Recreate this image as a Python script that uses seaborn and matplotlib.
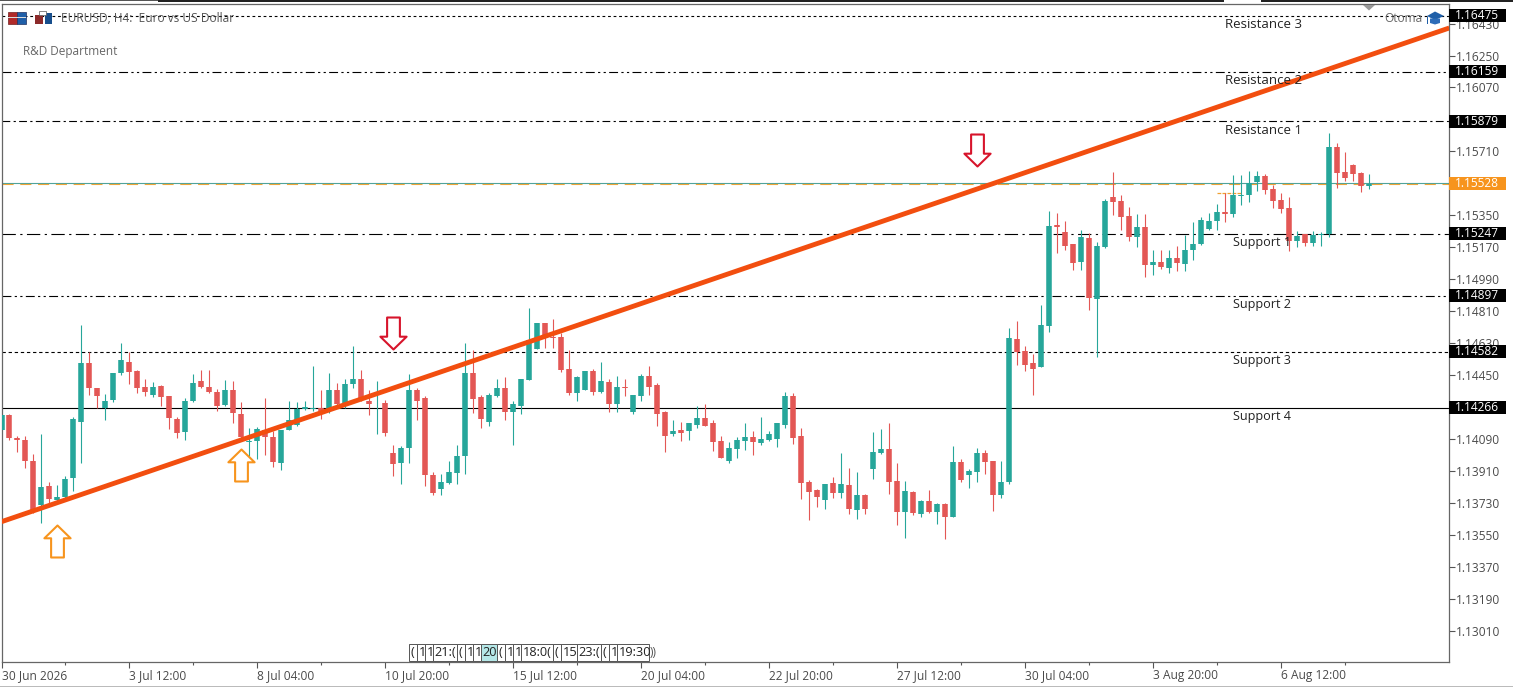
import numpy as np
import pandas as pd
import seaborn as sns
import matplotlib.pyplot as plt
from matplotlib.path import Path
from matplotlib.patches import Rectangle, Polygon

# Candles, in points (price * 100000)
open_pts = [114144, 114223, 114099, 114087, 113969, 113721, 113828, 113749, 113764, 113869,
            114185, 114516, 114379, 114266, 114309, 114462, 114527, 114471, 114381, 114341,
            114388, 114334, 114206, 114129, 114304, 114415, 114384, 114358, 114281, 114369,
            114234, 114074, 114078, 114144, 114102, 113954, 114140, 114172, 114260, 114257,
            114266, 114247, 114369, 114294, 114398, 114431, 114305, 114292, 114296, 114012,
            113954, 114039, 114366, 114319, 113890, 113811, 113845, 113901, 113993, 114465,
            114326, 114189, 114330, 114375, 114245, 114279, 114422, 114595, 114742, 114666,
            114663, 114482, 114347, 114369, 114471, 114358, 114409, 114290, 114384, 114245,
            114332, 114448, 114392, 114240, 114116, 114144, 114133, 114172, 114211, 114178,
            114082, 113967, 114037, 114082, 114104, 114070, 114087, 114093, 114172, 114330,
            114110, 113850, 113805, 113749, 113845, 113788, 113833, 113692, 113777, 113924,
            114012, 114036, 113856, 113681, 113794, 113670, 113743, 113681, 113726, 113653,
            113963, 113890, 113907, 114014, 113969, 113777, 113850, 114651, 114584, 114516,
            114494, 114725, 115295, 115255, 115187, 115086, 115221, 114877, 115170, 115452,
            115430, 115345, 115227, 115283, 115069, 115086, 115052, 115108, 115075, 115154,
            115187, 115272, 115317, 115368, 115357, 115458, 115464, 115537, 115571, 115498,
            115436, 115390, 115204, 115244, 115193, 115238, 115244, 115734, 115593, 115633,
            115588, 115515]
high_pts = [114228, 114232, 114110, 114110, 114007, 114119, 113849, 113834, 113882, 114215,
            114730, 114582, 114379, 114345, 114465, 114629, 114582, 114478, 114426, 114413,
            114392, 114334, 114215, 114321, 114454, 114480, 114478, 114373, 114424, 114420,
            114300, 114153, 114159, 114319, 114134, 114144, 114307, 114300, 114307, 114499,
            114364, 114463, 114407, 114426, 114612, 114477, 114369, 114415, 114313, 114059,
            114054, 114458, 114375, 114334, 113905, 113896, 113969, 114059, 114629, 114593,
            114341, 114347, 114426, 114441, 114307, 114426, 114826, 114745, 114742, 114764,
            114689, 114593, 114443, 114471, 114482, 114527, 114426, 114448, 114426, 114341,
            114454, 114499, 114407, 114251, 114195, 114189, 114183, 114279, 114290, 114200,
            114110, 114076, 114104, 114183, 114138, 114217, 114138, 114178, 114358, 114352,
            114155, 113862, 113811, 113839, 113879, 114014, 113929, 113907, 113783, 114132,
            114149, 114183, 113957, 113856, 113800, 113749, 113805, 113732, 113732, 114053,
            113980, 113924, 114042, 114031, 113969, 113969, 114713, 114753, 114617, 114572,
            114843, 115374, 115362, 115317, 115187, 115266, 115249, 115199, 115441, 115593,
            115464, 115396, 115357, 115357, 115154, 115154, 115154, 115176, 115238, 115311,
            115340, 115362, 115413, 115475, 115577, 115577, 115599, 115599, 115582, 115520,
            115475, 115452, 115261, 115244, 115261, 115255, 115813, 115757, 115706, 115639,
            115593, 115582]
low_pts = [114140, 114084, 114016, 113928, 113674, 113616, 113730, 113730, 113755, 113800,
           113954, 114337, 114266, 114200, 114298, 114450, 114403, 114349, 114330, 114326,
           114275, 114149, 114095, 114084, 114298, 114377, 114351, 114247, 114275, 114178,
           114087, 113984, 113980, 114003, 113931, 113914, 114140, 114166, 114253, 114251,
           114206, 114238, 114266, 114266, 114379, 114304, 114228, 114121, 114110, 113881,
           113839, 113958, 114200, 113824, 113773, 113777, 113839, 113839, 113896, 114238,
           114155, 114163, 114326, 114195, 114059, 114234, 114422, 114595, 114601, 114604,
           114467, 114341, 114307, 114369, 114341, 114352, 114245, 114245, 114330, 114234,
           114307, 114341, 114166, 114020, 114110, 114082, 114087, 114155, 114166, 114025,
           113986, 113958, 113986, 114031, 114003, 114059, 114082, 114048, 114155, 114065,
           113754, 113636, 113709, 113698, 113760, 113760, 113670, 113642, 113670, 113867,
           114008, 113783, 113608, 113534, 113664, 113653, 113675, 113613, 113529, 113653,
           113850, 113816, 113850, 113895, 113687, 113760, 113839, 114510, 114476, 114341,
           114494, 114691, 115137, 115154, 115041, 115041, 114815, 114550, 115165, 115351,
           115266, 115204, 115170, 115001, 115013, 115046, 115024, 115035, 115035, 115097,
           115182, 115266, 115266, 115311, 115340, 115407, 115424, 115486, 115469, 115390,
           115362, 115148, 115170, 115176, 115176, 115176, 115227, 115503, 115543, 115543,
           115481, 115498]
close_pts = [114223, 114095, 114084, 113965, 113693, 113822, 113755, 113766, 113867, 114206,
             114516, 114377, 114332, 114305, 114465, 114533, 114467, 114377, 114354, 114384,
             114326, 114208, 114127, 114305, 114407, 114383, 114354, 114275, 114369, 114236,
             114102, 114080, 114148, 114101, 113960, 114144, 114200, 114262, 114272, 114266,
             114247, 114369, 114285, 114403, 114431, 114322, 114290, 114294, 114127, 113952,
             114042, 114364, 114307, 113886, 113788, 113851, 113907, 113997, 114465, 114315,
             114206, 114337, 114375, 114240, 114285, 114426, 114646, 114742, 114657, 114659,
             114477, 114347, 114437, 114471, 114358, 114415, 114285, 114386, 114377, 114336,
             114448, 114386, 114234, 114110, 114133, 114127, 114183, 114211, 114166, 114076,
             113986, 114042, 114087, 114104, 114076, 114093, 114121, 114178, 114330, 114098,
             113845, 113794, 113766, 113839, 113788, 113839, 113698, 113777, 113698, 114020,
             114036, 113850, 113681, 113800, 113675, 113743, 113681, 113726, 113653, 113963,
             113862, 113912, 114014, 113963, 113777, 113850, 114662, 114578, 114505, 114482,
             114731, 115289, 115283, 115176, 115080, 115227, 114883, 115176, 115430, 115424,
             115340, 115227, 115283, 115069, 115086, 115058, 115108, 115080, 115154, 115187,
             115323, 115317, 115368, 115357, 115464, 115464, 115531, 115571, 115492, 115430,
             115385, 115204, 115233, 115193, 115238, 115244, 115734, 115588, 115560, 115582,
             115515, 115526]

level_prices = [1.16475, 1.16159, 1.15879, 1.15247, 1.14897, 1.14582, 1.14266]
level_names = ["Resistance 3", "Resistance 2", "Resistance 1",
               "Support 1", "Support 2", "Support 3", "Support 4"]
current_price = 1.15528

trend_bars = [0, 181]
trend_prices = [1.13625, 1.16405]

arrow_up_bars = [7, 30]
arrow_up_prices = [1.13518, 1.13946]
arrow_down_bars = [49, 122]
arrow_down_prices = [1.14685, 1.15717]

price_ticks = [1.13010, 1.13190, 1.13370, 1.13550, 1.13730, 1.13910, 1.14090, 1.14270, 1.14450,
               1.14630, 1.14810, 1.14990, 1.15170, 1.15350, 1.15530, 1.15710, 1.15890, 1.16070,
               1.16250, 1.16430]
date_labels = ["30 Jun 2026", "3 Jul 12:00", "8 Jul 04:00", "10 Jul 20:00", "15 Jul 12:00",
               "20 Jul 04:00", "22 Jul 20:00", "27 Jul 12:00", "30 Jul 04:00", "3 Aug 20:00",
               "6 Aug 12:00"]

# the little time boxes stacked on the bottom of the chart, cut off as they appear
cell_labels = ["(", "1", "1", "21:(", "(", "1", "1", "20", "(", "1", "1", "18:0(",
               "(", "15", "23:(", "(", "1", "19:30"]
cell_widths = [1, 1, 1, 3, 1, 1, 1, 2, 1, 1, 1, 4, 1, 2, 3, 1, 1, 4]

W, H = 1513, 687
TEAL = "#26A69A"
RED = "#E35755"
GREY = "#4A4A4A"

sns.set_theme(style="white")
plt.rcParams["font.family"] = ["Open Sans", "DejaVu Sans"]

candles = pd.DataFrame({"open": open_pts, "high": high_pts, "low": low_pts, "close": close_pts}) / 1e5
candles["bar"] = np.arange(len(candles))
candles["direction"] = np.where(candles["close"] >= candles["open"], "up", "down")
palette = {"up": TEAL, "down": RED}

# long form, one pair of rows per candle, so lineplot draws one segment per bar
wicks = candles.melt(id_vars=["bar", "direction"], value_vars=["high", "low"], value_name="price")
bodies = candles.melt(id_vars=["bar", "direction"], value_vars=["open", "close"], value_name="price")

fig = plt.figure(figsize=(W / 100, H / 100), dpi=100, facecolor="white")
ax = fig.add_axes([1.5 / W, 1 - 662 / H, 1447 / W, 658 / H])


def px_rect(x0, y0, x1, y1, **kw):
    fig.add_artist(Rectangle((x0 / W, 1 - y1 / H), (x1 - x0) / W, (y1 - y0) / H,
                             transform=fig.transFigure, **kw))


def px_poly(points, **kw):
    pts = [(x / W, 1 - y / H) for x, y in points]
    fig.add_artist(Polygon(pts, transform=fig.transFigure, **kw))


# Levels
level_styles = [(0, (2.5, 2.5)), (0, (8, 3, 2, 3, 2, 3)), (0, (7, 3, 2, 3)),
                (0, (12, 4, 2, 4)), (0, (8, 3, 2, 3, 2, 3)), (0, (3, 2.5)), "-"]
for price, style in zip(level_prices, level_styles):
    ax.axhline(price, color="black", lw=0.8, ls=style, zorder=1)
# current price: thin teal line with the orange dashed one right under it
ax.axhline(current_price + 0.00003, color="#4FA39B", lw=0.8, zorder=1)
ax.axhline(current_price - 0.00003, color="#EEA63A", lw=0.8, ls=(0, (10, 6)), zorder=1.2)
ax.hlines(1.15473, 152, 155, color="#F0A030", lw=0.9, ls=(0, (3, 1)), zorder=1)

# Candles
sns.lineplot(data=wicks, x="bar", y="price", units="bar", hue="direction", palette=palette,
             estimator=None, lw=0.8, legend=False, solid_capstyle="butt", zorder=2, ax=ax)
sns.lineplot(data=bodies, x="bar", y="price", units="bar", hue="direction", palette=palette,
             estimator=None, lw=4.0, legend=False, solid_capstyle="butt", zorder=3, ax=ax)

# Trend line
sns.lineplot(x=trend_bars, y=trend_prices, color="#F24E0F", lw=3.5, zorder=4, ax=ax,
             solid_capstyle="butt")

# Block arrows
arrow_up = Path([(0, 1), (0.82, 0.2), (0.4, 0.2), (0.4, -1), (-0.4, -1), (-0.4, 0.2), (-0.82, 0.2), (0, 1)],
                closed=True)
arrow_down = Path([(0, -1), (0.82, -0.2), (0.4, -0.2), (0.4, 1), (-0.4, 1), (-0.4, -0.2), (-0.82, -0.2), (0, -1)],
                  closed=True)
sns.scatterplot(x=arrow_up_bars, y=arrow_up_prices, marker=arrow_up, s=530, facecolor="white",
                edgecolor="#F7941D", linewidth=1.5, zorder=5, ax=ax)
sns.scatterplot(x=arrow_down_bars, y=arrow_down_prices, marker=arrow_down, s=530, facecolor="white",
                edgecolor="#D7142B", linewidth=1.5, zorder=5, ax=ax)

ax.set_xlim(0.02, 180.9)
ax.set_ylim(1.12835, 1.16540)
ax.set_xlabel("")
ax.set_ylabel("")

# Axes
ax.yaxis.tick_right()
ax.set_yticks(price_ticks, [f"{p:.5f}" for p in price_ticks])
ax.set_xticks(np.arange(len(date_labels)) * 16, date_labels, ha="left")
ax.set_xticks(np.arange(len(date_labels)) * 16 + 8, minor=True)
ax.tick_params(axis="y", right=True, length=4, width=0.8, color="#555555", labelsize=8.6,
               labelcolor=GREY, pad=1.5)
ax.tick_params(axis="x", which="major", bottom=True, length=4, width=0.8, color="#555555",
               labelsize=8.6, labelcolor=GREY, pad=0.8)
ax.tick_params(axis="x", which="minor", bottom=True, length=2, width=0.8, color="#555555")
for spine in ax.spines.values():
    spine.set_visible(True)
    spine.set_color("#666666")
    spine.set_linewidth(0.9)

# Level names under each line
for price, name in zip(level_prices, level_names):
    start = 153 if name.startswith("Res") else 154
    size = 9.5 if name.startswith("Res") else 9.1
    ax.text(start, price - 0.00051, name, fontsize=size, color="#222222", va="center", ha="left", zorder=6)

# Price badges on the right scale
badge_tf = ax.get_yaxis_transform()
for price in level_prices + [current_price]:
    color = "#F7941D" if price == current_price else "black"
    ax.add_patch(Rectangle((1.0005, price - 0.00037), 0.0395, 0.00074, transform=badge_tf,
                           facecolor=color, edgecolor="none", clip_on=False, zorder=7))
    ax.text(1.0042, price, f"{price:.5f}", transform=badge_tf, color="white", fontsize=8.6,
            va="center", ha="left", clip_on=False, zorder=8)

# Time boxes near the bottom
cell_tf = ax.get_xaxis_transform()
cell_left = 51
for label, width in zip(cell_labels, cell_widths):
    fill = "#B5E8E8" if label == "20" else "white"
    ax.add_patch(Rectangle((cell_left, 0.0015), width, 0.0255, transform=cell_tf, facecolor=fill,
                           edgecolor="#555555", linewidth=0.7, zorder=6))
    ax.text(cell_left + 0.12, 0.014, label, transform=cell_tf, fontsize=9.2, color="#222222",
            va="center", ha="left", zorder=7)
    cell_left += width
ax.text(cell_left + 0.05, 0.014, "))", transform=cell_tf, fontsize=8.6, color="#555555",
        va="center", ha="left", zorder=7)

# Header text and small icons
fig.text(61 / W, 1 - 18.5 / H, "EURUSD, H4:  Euro vs US Dollar", fontsize=8.6, color="#555555", va="center")
fig.text(23 / W, 1 - 51.5 / H, "R&D Department", fontsize=8.5, color="#666666", va="center")
fig.text(1384 / W, 1 - 18.5 / H, "Otoma", fontsize=8.6, color="#666666", va="center")

px_rect(158, 0, W, 1.5, facecolor="#222222", edgecolor="none")
px_rect(0, 0, 158, 1, facecolor="#555555", edgecolor="none")
px_rect(1224, 0, 1261, 1.5, facecolor="white", edgecolor="none")
px_rect(0, 686, W, H, facecolor="#BBBBBB", edgecolor="none")

# chart shift marker
px_poly([(1363, 5), (1375, 5), (1369, 10.5)], facecolor="#9A9A9A", edgecolor="none")

# toolbar icons
px_rect(8, 12, 17, 23.5, facecolor="#B02A2A", edgecolor="#702020", linewidth=0.5)
px_rect(17, 12, 26, 23.5, facecolor="#1F5FA8", edgecolor="#203060", linewidth=0.5)
px_rect(8, 17, 26, 18.2, facecolor="#DDDDDD", edgecolor="none")
px_rect(35, 15, 43, 24, facecolor="#8C2A2A", edgecolor="none")
px_rect(45, 13, 52, 24, facecolor="#174E8C", edgecolor="none")
px_rect(39, 11, 46, 15, facecolor="white", edgecolor="#555555", linewidth=0.5)

# graduation cap
px_poly([(1427, 16), (1435, 11.5), (1444, 16), (1435, 20)], facecolor="#1F5FA8", edgecolor="none")
px_poly([(1430, 18.5), (1440, 18.5), (1440, 23), (1435, 24.5), (1430, 23)], facecolor="#2C6CB8", edgecolor="none")
px_rect(1427, 17, 1428, 24, facecolor="#1F5FA8", edgecolor="none")

fig.savefig("out.png", dpi=100, facecolor="white")
